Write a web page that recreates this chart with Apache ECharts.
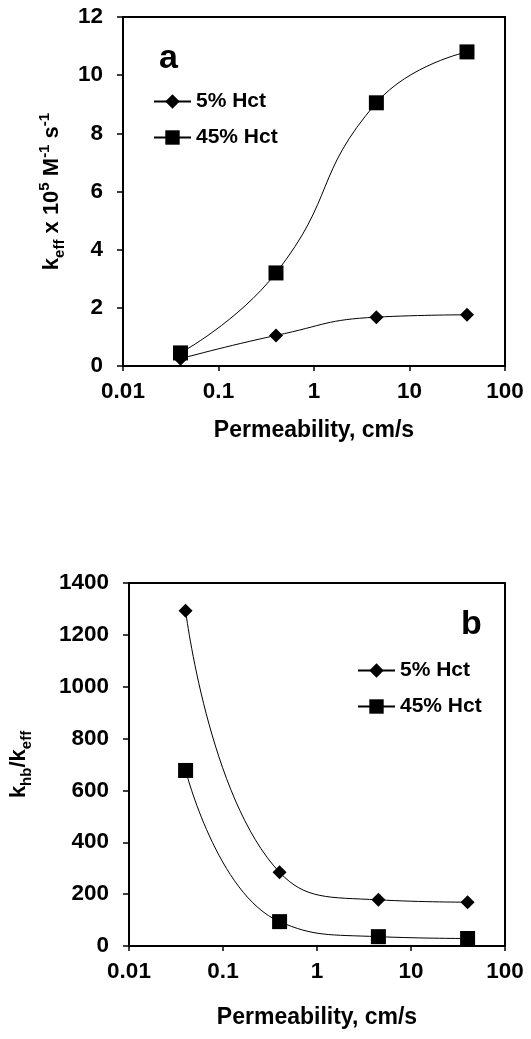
<!DOCTYPE html>
<html>
<head>
<meta charset="utf-8">
<script src="https://cdn.jsdelivr.net/npm/echarts@6/dist/echarts.min.js"></script>
<style>
html,body{margin:0;padding:0;background:#fff;}
#chart{width:531px;height:1039px;}
</style>
</head>
<body>
<div id="chart"></div>
<script>
// Data
const permeability = [0.04, 0.4, 4.5, 40];
const keff5 = [0.25, 1.05, 1.68, 1.76];
const keff45 = [0.45, 3.2, 9.05, 10.8];
const ratio5 = [1293, 284, 178, 169];
const ratio45 = [677, 94, 36, 29];
const seriesNames = ['5% Hct', '45% Hct'];
const xLabel = 'Permeability, cm/s';
const panelLabels = ['a', 'b'];

const FONT = 'Liberation Sans, Arial, sans-serif';
const pairs = (xs, ys) => xs.map((x, i) => [x, ys[i]]);

const chart = echarts.init(document.getElementById('chart'));

const xAxisBase = {
  type: 'log', logBase: 10, min: 0.01, max: 100,
  name: xLabel, nameLocation: 'middle',
  nameTextStyle: {fontFamily: FONT, fontWeight: 'bold', fontSize: 23, color: '#000'},
  axisLine: {show: true, onZero: false, lineStyle: {color: '#000', width: 2}},
  axisTick: {show: true, inside: false, length: 5, lineStyle: {color: '#000', width: 1.5}},
  minorTick: {show: false},
  splitLine: {show: false},
  axisLabel: {fontFamily: FONT, fontWeight: 'bold', fontSize: 22.5, color: '#000', margin: 14,
    formatter: v => String(Number(v.toPrecision(6)))}
};
const yAxisBase = {
  type: 'value', nameLocation: 'middle', nameRotate: 90,
  axisLine: {show: true, lineStyle: {color: '#000', width: 2}},
  axisTick: {show: true, inside: false, length: 6, lineStyle: {color: '#000', width: 1.5}},
  splitLine: {show: false},
  axisLabel: {fontFamily: FONT, fontWeight: 'bold', fontSize: 22.5, color: '#000', margin: 20,
    formatter: v => String(v)}
};
const rich = {
  b: {fontFamily: FONT, fontWeight: 'bold', fontSize: 22, color: '#000', lineHeight: 30},
  sub: {fontFamily: FONT, fontWeight: 'bold', fontSize: 15, color: '#000', verticalAlign: 'bottom', lineHeight: 30, padding: [8, 0, 0, 0]},
  sup: {fontFamily: FONT, fontWeight: 'bold', fontSize: 15, color: '#000', verticalAlign: 'top', lineHeight: 30, padding: [0, 0, 6, 0]}
};

function lineSeries(name, data, xi, symbol, size) {
  return {
    name, type: 'line', xAxisIndex: xi, yAxisIndex: xi, data,
    smooth: 0.5, symbol, symbolSize: size,
    lineStyle: {color: '#000', width: 1},
    itemStyle: {color: '#000'},
    z: 3
  };
}

const legendText = {fontFamily: FONT, fontWeight: 'bold', fontSize: 21, color: '#000'};

chart.setOption({
  backgroundColor: '#fff',
  animation: false,
  grid: [
    {left: 123, right: 26, top: 17, height: 349, show: true, borderColor: '#000', borderWidth: 2, backgroundColor: 'transparent'},
    {left: 129, right: 26, top: 583, height: 363, show: true, borderColor: '#000', borderWidth: 2, backgroundColor: 'transparent'}
  ],
  xAxis: [
    Object.assign({}, xAxisBase, {gridIndex: 0, nameGap: 53}),
    Object.assign({}, xAxisBase, {gridIndex: 1, nameGap: 60})
  ],
  yAxis: [
    Object.assign({}, yAxisBase, {gridIndex: 0, min: 0, max: 12, interval: 2,
      name: '{b|k}{sub|eff}{b| x 10}{sup|5}{b| M}{sup|-1}{b| s}{sup|-1}',
      nameGap: 55, nameTextStyle: {rich}}),
    Object.assign({}, yAxisBase, {gridIndex: 1, min: 0, max: 1400, interval: 200,
      name: '{b|k}{sub|hb}{b|/k}{sub|eff}',
      nameGap: 95, nameTextStyle: {rich}})
  ],
  legend: [
    {orient: 'vertical', left: 148, top: 86, itemWidth: 37, itemHeight: 18, itemGap: 15,
      data: seriesNames, textStyle: legendText, selectedMode: false},
    {orient: 'vertical', left: 352, top: 655, itemWidth: 37, itemHeight: 18, itemGap: 15,
      data: seriesNames, textStyle: legendText, selectedMode: false}
  ],
  graphic: [
    {type: 'text', left: 159, top: 42, style: {text: panelLabels[0], font: 'bold 34px ' + FONT, fill: '#000'}},
    {type: 'text', left: 461, top: 608, style: {text: panelLabels[1], font: 'bold 34px ' + FONT, fill: '#000'}}
  ],
  series: [
    lineSeries(seriesNames[0], pairs(permeability, keff5), 0, 'diamond', 14),
    lineSeries(seriesNames[1], pairs(permeability, keff45), 0, 'rect', 15),
    lineSeries(seriesNames[0], pairs(permeability, ratio5), 1, 'diamond', 14),
    lineSeries(seriesNames[1], pairs(permeability, ratio45), 1, 'rect', 15)
  ]
});
</script>
</body>
</html>
